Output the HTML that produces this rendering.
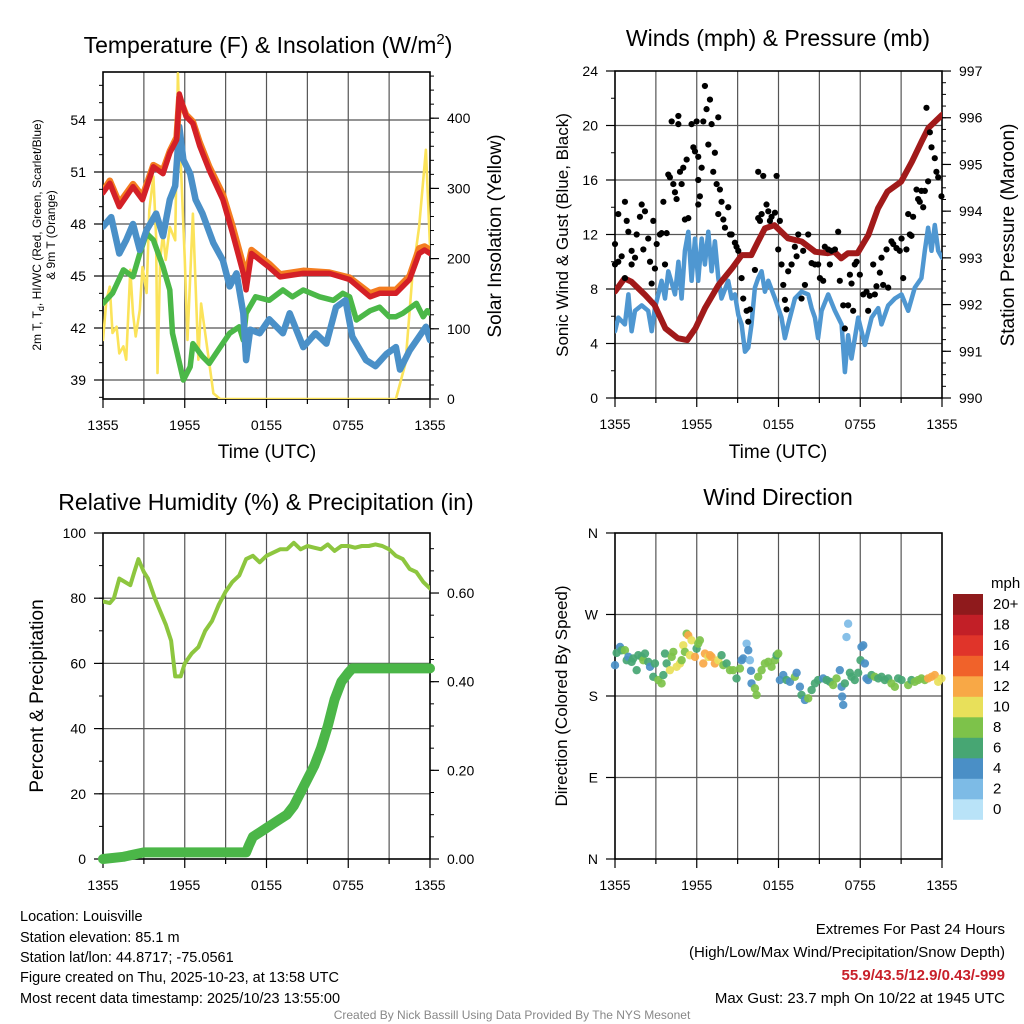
<!DOCTYPE html>
<html><head><meta charset="utf-8"><style>
html,body{margin:0;padding:0;background:#fff;}
svg{display:block;font-family:"Liberation Sans",Arial,sans-serif;}
</style></head><body>
<svg id="fig" width="1024" height="1024" viewBox="0 0 1024 1024" xmlns="http://www.w3.org/2000/svg">
<rect width="1024" height="1024" fill="#fff"/>
<text x="268" y="53" font-size="23" text-anchor="middle">Temperature (F) &amp; Insolation (W/m<tspan dy="-9" font-size="15">2</tspan><tspan dy="9">)</tspan></text>
<text x="778" y="46" font-size="23" text-anchor="middle">Winds (mph) &amp; Pressure (mb)</text>
<text x="266" y="510" font-size="23" text-anchor="middle">Relative Humidity (%) &amp; Precipitation (in)</text>
<text x="778" y="505" font-size="23" text-anchor="middle">Wind Direction</text>
<text x="267" y="458" font-size="19" text-anchor="middle">Time (UTC)</text>
<text x="778" y="458" font-size="19" text-anchor="middle">Time (UTC)</text>
<text transform="translate(41,235) rotate(-90)" font-size="12" text-anchor="middle">2m T, T<tspan dy="3" font-size="9">d</tspan><tspan dy="-3">, HI/WC (Red, Green, Scarlet/Blue)</tspan></text>
<text transform="translate(55,235) rotate(-90)" font-size="12" text-anchor="middle">&amp; 9m T (Orange)</text>
<text transform="translate(501,236) rotate(-90)" font-size="19" text-anchor="middle">Solar Insolation (Yellow)</text>
<text transform="translate(568,235) rotate(-90)" font-size="17" text-anchor="middle">Sonic Wind &amp; Gust (Blue, Black)</text>
<text transform="translate(1014,235) rotate(-90)" font-size="19" text-anchor="middle">Station Pressure (Maroon)</text>
<text transform="translate(43,696) rotate(-90)" font-size="19" text-anchor="middle">Percent &amp; Precipitation</text>
<text transform="translate(567,696) rotate(-90)" font-size="17" text-anchor="middle">Direction (Colored By Speed)</text>
<g font-size="14.5">
<text x="20" y="921">Location: Louisville</text>
<text x="20" y="942">Station elevation: 85.1 m</text>
<text x="20" y="962">Station lat/lon: 44.8717; -75.0561</text>
<text x="20" y="982">Figure created on Thu, 2025-10-23, at 13:58 UTC</text>
<text x="20" y="1003">Most recent data timestamp: 2025/10/23 13:55:00</text>
</g>
<g font-size="15" text-anchor="end">
<text x="1005" y="934">Extremes For Past 24 Hours</text>
<text x="1005" y="957">(High/Low/Max Wind/Precipitation/Snow Depth)</text>
<text x="1005" y="980" fill="#c8202a" font-weight="bold">55.9/43.5/12.9/0.43/-999</text>
<text x="1005" y="1003">Max Gust: 23.7 mph On 10/22 at 1945 UTC</text>
</g>
<text x="512" y="1019" font-size="12" fill="#888" text-anchor="middle">Created By Nick Bassill Using Data Provided By The NYS Mesonet</text>
</svg>
<script>
// ---------- DATA ----------
const xTickLabels = ["1355","1955","0155","0755","1355"];
// Panel 1
const tempHours = [0,0.5,1.2,2.2,2.9,3.7,4.4,4.9,5.4,5.6,6.1,6.6,7.1,7.8,8.8,9.5,10.3,10.5,10.9,12.2,13,14.7,16.6,18.1,19.6,20.3,21.5,22.5,23.2,23.6,24];
const temp2m = [49.8,50.35,49.0,50.15,49.4,51.3,50.9,52.1,52.85,55.5,54.2,53.8,52.5,51.1,49.4,47.5,45.15,44.2,46.3,45.5,44.95,45.15,45.15,44.8,43.8,44.0,44.0,44.8,46.3,46.5,46.3];
const temp9m = [49.9,50.5,49.2,50.3,49.6,51.4,51.1,52.2,53.0,55.3,54.3,53.9,52.7,51.3,49.7,47.9,45.6,45.0,46.5,45.7,45.1,45.3,45.2,44.9,44.0,44.2,44.2,45.0,46.6,46.7,46.5];
const hiwcHours = [0,0.6,1.2,1.7,2.2,2.7,3.2,3.9,4.4,4.9,5.3,5.6,5.9,6.4,6.8,7.3,8.1,8.8,9.3,9.8,10.3,10.5,10.8,11.5,12.2,13.2,13.7,14.7,15.6,16.4,17.1,17.8,18.3,19.3,20.0,20.8,21.5,21.8,22.5,23.2,23.7,24];
const hiwc = [47.85,48.4,46.3,47.07,48.0,46.5,47.65,48.6,47.3,49.4,50.2,53.6,51.7,50.9,49.4,48.6,46.9,45.9,44.4,45.15,42.85,40.15,41.9,41.7,42.5,41.7,42.85,40.9,41.7,41.1,43.2,43.6,41.5,40.15,39.8,40.5,40.9,39.6,40.7,41.5,42.07,41.3];
const dewHours = [0,0.7,1.5,2.2,2.7,3.2,3.7,4.4,4.9,5.1,5.9,6.4,6.6,7.3,7.8,8.6,9.3,10.0,10.3,10.5,11.2,12.2,13.2,13.9,14.7,15.9,16.9,17.6,18.1,18.6,19.6,20.3,21.0,21.5,22.0,23.0,23.5,23.8,24];
const dewpoint = [43.42,44.0,45.35,44.96,46.3,47.46,47.07,45.54,44.19,41.7,39.0,39.77,41.1,40.35,39.96,40.9,41.7,42.07,41.3,42.85,43.8,43.6,44.19,43.8,44.19,43.8,43.6,44.0,43.8,42.46,43.0,43.2,42.65,42.65,42.85,43.42,42.65,43.0,42.85];
const solarHours = [0,0.25,0.5,0.7,1.0,1.2,1.5,1.7,2.0,2.2,2.4,2.7,2.9,3.2,3.4,3.7,3.9,4.0,4.2,4.4,4.6,4.9,5.3,5.5,5.7,6.0,6.2,6.6,7.0,7.2,7.6,8.1,8.6,21.5,22.2,22.7,23.2,23.7,24];
const solar = [84,141,160,94,103,65,75,56,184,122,89,127,188,151,269,317,231,37,198,236,198,245,226,464,340,198,84,264,56,136,79,8,0,0,51,174,245,355,217];
const tempTicks = [39,42,45,48,51,54];
const solarTicks = [0,100,200,300,400];
// Panel 2
const presHours = [0,0.7,1.2,2.2,2.9,3.7,4.6,5.3,5.9,6.6,7.6,8.6,9.3,10.0,10.5,11.0,11.7,12.2,12.7,13.7,14.7,15.6,16.1,16.6,17.1,17.8,18.6,19.3,20.0,21.0,21.8,22.5,23.0,24];
const pressure = [992.28,992.56,992.49,992.21,991.99,991.49,991.28,991.24,991.49,991.92,992.42,992.78,993.06,993.06,993.35,993.63,993.70,993.56,993.42,993.35,993.13,993.10,993.13,992.99,993.10,993.10,993.49,994.06,994.42,994.63,995.06,995.49,995.78,996.06];
const windHours = [0,0.24,0.73,0.98,1.22,1.47,1.96,2.44,2.69,2.93,3.18,3.42,3.67,3.91,4.4,4.65,4.89,5.13,5.38,5.62,5.87,6.11,6.36,6.6,6.85,7.09,7.33,7.58,7.82,8.31,8.56,8.8,9.05,9.29,9.54,9.78,10.02,10.27,10.51,10.76,11.0,11.25,11.74,12.22,12.47,12.71,13.2,13.69,14.18,14.43,14.67,14.91,15.16,15.65,16.14,16.63,16.87,17.11,17.36,17.85,18.09,18.34,18.83,19.32,19.56,20.05,20.54,21.03,21.52,22.0,22.49,22.74,22.98,23.23,23.47,23.72,24];
const windSpeed = [4.9,5.9,5.4,7.6,4.9,6.4,6.8,6.4,4.9,6.6,7.6,8.6,7.3,9.3,7.6,10.0,7.3,10.8,12.2,8.6,11.7,8.6,11.7,9.8,12.2,9.3,11.5,8.8,7.3,8.6,7.3,7.6,6.1,5.4,3.4,3.7,5.4,8.1,8.8,9.3,7.8,8.6,7.3,5.9,4.4,5.4,7.3,7.8,7.6,6.6,5.9,4.4,6.4,7.6,6.4,5.4,1.9,4.6,2.9,5.9,4.9,3.9,5.9,6.6,5.4,6.8,7.3,7.6,6.4,8.1,8.8,10.8,12.5,10.8,12.7,10.8,10.3];
const gustHours = [0,0,0.24,0.24,0.49,0.73,0.73,0.86,0.98,1.22,1.22,1.47,1.59,1.83,1.96,2.08,2.2,2.44,2.57,2.69,2.81,2.93,3.06,3.3,3.42,3.67,3.79,3.55,3.91,4.03,4.28,4.4,4.52,4.77,4.89,5.01,5.13,5.26,5.38,4.16,4.65,4.65,5.62,5.75,5.87,5.99,6.11,6.11,6.23,6.11,6.36,6.48,6.6,6.72,6.97,6.85,7.09,7.21,7.33,7.46,7.58,7.7,7.82,7.58,7.95,8.07,8.31,8.44,8.56,8.8,8.92,9.05,9.29,9.41,9.66,9.78,9.9,10.27,10.51,10.64,10.76,10.51,10.88,11.12,11.25,11.37,11.49,11.74,11.86,11.98,12.1,12.22,12.35,12.47,12.59,12.71,12.96,13.2,13.33,13.45,13.69,13.81,13.94,14.18,14.43,14.67,14.91,15.04,15.28,15.4,15.65,15.77,15.89,16.14,16.38,16.5,16.75,16.87,17.11,17.24,17.36,17.48,17.6,17.73,17.97,18.22,18.46,18.58,18.7,18.95,19.07,19.19,19.44,19.56,19.68,19.93,20.05,20.29,20.42,20.66,20.9,21.03,21.15,21.39,21.52,21.64,21.76,21.88,22.13,22.25,22.37,22.49,22.62,22.74,22.86,22.98,23.11,23.23,23.47,23.59,23.72,23.96];
const gustSpeed = [9.8,11.3,10.0,13.5,10.4,8.8,14.4,13.0,12.2,10.8,9.8,10.3,12.0,13.3,14.2,10.9,13.7,11.7,10.0,8.4,13.0,9.5,11.3,12.0,12.1,9.8,12.1,14.4,16.4,16.2,15.7,15.1,14.6,16.6,15.7,16.9,13.1,17.5,13.2,20.3,20.1,20.7,20.1,18.4,18.1,20.3,17.7,16.0,14.8,14.2,16.9,20.3,22.9,21.2,21.9,18.6,20.1,16.6,18.0,15.7,20.6,15.3,14.4,13.5,13.1,12.5,14.0,12.0,12.0,11.4,11.1,10.8,8.8,7.3,6.4,5.6,6.5,9.4,13.2,13.0,13.5,16.6,16.3,14.2,13.7,13.0,13.3,13.6,16.3,10.9,13.0,9.8,8.3,7.2,6.5,9.3,9.8,11.1,10.4,12.0,7.3,10.8,8.3,12.0,9.9,9.8,9.8,8.8,8.6,11.1,10.9,9.8,10.8,10.9,12.2,8.6,6.8,5.1,6.8,9.05,8.4,6.4,9.8,10.0,9.05,7.6,7.8,6.4,7.5,9.8,7.6,8.2,9.2,10.3,8.3,10.9,8.1,11.5,11.3,11.0,10.8,11.7,8.8,10.9,13.5,12.0,11.9,13.3,15.3,14.6,14.4,15.2,14.0,15.2,21.3,15.9,19.5,18.4,17.6,16.6,16.2,14.8];
const windTicks = [0,4,8,12,16,20,24];
const presTicks = [990,991,992,993,994,995,996,997];
// Panel 3
const rhHours = [0,0.5,0.8,1.2,1.6,2.0,2.3,2.6,3.0,3.3,3.8,4.2,4.6,5.0,5.3,5.7,6.0,6.5,7.0,7.5,8,8.5,9,9.5,10,10.5,11,11.5,12,12.5,13,13.5,14,14.5,15,15.5,16,16.5,17,17.5,18,18.5,19,19.5,20,20.5,21,21.5,22,22.5,23,23.5,24];
const rh = [79,78.5,80,86,85,84,88,92,88,86,80,76,72,67,56,56,60,63,65,70,73,78,82,85,87,92,93,91,93,94,95,95,97,95,96,95.5,95,96.5,94.5,96,96,95.5,96,96,96.5,96,95,93,92,89,88,85,83];
const precHours = [0,1.5,3,10.5,10.7,11,11.5,12,12.5,13,13.5,14,14.5,15,15.5,16,16.5,17,17.5,18,18.3,24];
const precip = [0,0.005,0.015,0.015,0.03,0.05,0.06,0.07,0.08,0.09,0.10,0.12,0.15,0.18,0.21,0.25,0.30,0.36,0.40,0.42,0.43,0.43];
const rhTicks = [0,20,40,60,80,100];
const precTicks = ["0.00","0.20","0.40","0.60"];
// Panel 4
const dirHours = [0,0.12,0.37,0.49,0.73,0.86,0.98,1.22,1.34,1.59,1.71,1.96,2.08,2.2,2.44,2.57,2.81,2.93,3.18,3.42,3.55,3.67,3.79,4.03,4.16,4.28,4.52,4.77,4.89,5.01,5.13,5.26,5.38,5.5,5.62,5.87,5.99,6.11,6.23,6.48,6.6,6.85,6.97,7.09,7.33,7.58,7.82,7.95,8.19,8.44,8.68,8.92,9.17,9.29,9.41,9.66,9.78,9.9,9.98,10.02,10.27,10.39,10.51,10.76,11.0,11.25,11.49,11.74,11.86,11.98,12.1,12.35,12.59,12.84,13.2,13.33,13.57,13.69,13.94,14.18,14.43,14.67,14.91,15.28,15.53,15.77,16.01,16.26,16.5,16.63,16.67,16.75,16.87,16.99,17.11,17.24,17.36,17.6,17.85,18.02,18.09,18.22,18.34,18.46,18.58,18.83,19.07,19.32,19.56,19.8,20.05,20.29,20.54,20.78,21.03,21.52,21.76,22.0,22.25,22.49,22.74,22.98,23.23,23.47,23.72,23.96];
const dirDeg = [214,227.6,234.2,230.5,230.5,219.5,223.2,217.7,221.4,208.5,225,223.2,219.5,226.8,217.7,212.2,201.2,215.9,197.6,193.9,203.1,226.8,215.9,208.5,223.2,228.7,212.2,215.9,219.5,236,228.7,248.8,247,225,241.5,223.2,232.3,237.8,241.5,215.9,226.8,223.2,225,223.2,215.9,219.5,225,214,215.9,208.5,208.5,199.4,210.3,219.5,221.4,237.8,230.5,219.5,207.8,193.9,188.4,181.1,201.2,208.5,215.9,217.7,212.2,219.5,225,226.8,197.6,203.1,197.6,195.7,201.2,205.6,190.2,181.1,175.6,177.4,186.6,193.9,197.6,199.4,197.6,195.7,192.1,199.4,208.5,190.2,179.3,170.1,193.9,245.1,259.8,205.6,201.2,197.6,205.6,219.5,234.2,236,215.9,199.4,197.6,203.1,201.2,199.4,201.2,197.6,199.4,193.9,190.2,199.4,197.6,192.1,197.6,195.7,197.6,199.4,197.6,199.4,201.2,203.1,195.7,199.4];
const dirSpeed = [4,6,4,6,8,6,4,6,6,6,6,6,8,6,6,4,6,6,8,8,6,6,6,10,8,8,10,10,8,10,8,8,12,10,10,12,6,8,8,12,12,10,12,12,12,10,6,8,6,8,8,6,8,4,4,2,4,2,4,4,8,8,8,8,8,8,8,8,6,8,4,4,6,4,8,4,4,6,4,8,6,6,6,4,6,6,8,8,4,4,4,4,6,2,2,6,6,6,6,6,4,4,4,4,4,6,8,6,6,6,6,8,8,6,6,8,6,8,8,8,8,12,12,12,10,10];
const dirTicks = ["N","E","S","W","N"];
const scaleLabels = ["0","2","4","6","8","10","12","14","16","18","20+"];
const scaleColors = ["#b9e3f8","#7dbbe6","#4a8fc6","#47a673","#7dc24a","#e8e05a","#f8a846","#f0622a","#e0342a","#c21f27","#8f1a1c"];

// ---------- HELPERS ----------
const NS="http://www.w3.org/2000/svg";
const svg=document.getElementById('fig');
function mk(tag,attrs,parent){const e=document.createElementNS(NS,tag);for(const k in attrs)e.setAttribute(k,attrs[k]);(parent||svg).appendChild(e);return e;}
function panel(L,R,T,B){return {L,R,T,B,x:t=>L+t*(R-L)/24};}
const P1=panel(103,430,72,399), P2=panel(615,942,71,398), P3=panel(103,430,533,859), P4=panel(615,942,533,859);
const tempY=v=>380-(v-39)*52/3, solarY=w=>399-w*0.702;
const windY=m=>398-m*13.625, presY=p=>398-(p-990)*46.71;
const rhY=v=>859-v*3.26, precY=v=>859-v*443.3;
const dirY=d=>859-d*0.9056;
const speedColor=s=>scaleColors[Math.max(0,Math.min(10,Math.round(s/2)))];

function frame(p,name,hVals,hY){
  const g=mk('g',{});
  
  
  for(let h=3;h<24;h+=3){mk('line',{x1:p.x(h),x2:p.x(h),y1:p.T,y2:p.B,stroke:'#555','stroke-width':1.2},g);}
  hVals.forEach(v=>{const y=hY(v);if(y>p.T+1&&y<p.B-1)mk('line',{x1:p.L,x2:p.R,y1:y,y2:y,stroke:'#555','stroke-width':1.2},g);});
  const fr=mk('rect',{x:p.L,y:p.T,width:p.R-p.L,height:p.B-p.T,fill:'none',stroke:'#000','stroke-width':1.6});
  
  
  const xa=mk('g',{'font-size':14,'text-anchor':'middle'});
  
  
  for(let h=0;h<=24;h+=3){mk('line',{x1:p.x(h),x2:p.x(h),y1:p.B,y2:p.B+(h%6?5:9),stroke:'#000','stroke-width':1.2},xa);}
  xTickLabels.forEach((s,i)=>{const t=mk('text',{x:p.x(i*6),y:p.B+31},xa);t.textContent=s;});
}
function leftAxis(p,name,vals,labels,yf,minor){
  const g=mk('g',{'font-size':14,'text-anchor':'end'});
  
  
  (minor||[]).forEach(v=>mk('line',{x1:p.L-4,x2:p.L,y1:yf(v),y2:yf(v),stroke:'#000'},g));
  vals.forEach((v,i)=>{const y=yf(v);mk('line',{x1:p.L-9,x2:p.L,y1:y,y2:y,stroke:'#000','stroke-width':1.2},g);const t=mk('text',{x:p.L-17,y:y+5},g);t.textContent=labels[i];});
}
function rightAxis(p,name,vals,labels,yf,minor){
  const g=mk('g',{'font-size':14,'text-anchor':'start'});
  
  
  (minor||[]).forEach(v=>mk('line',{x1:p.R,x2:p.R+4,y1:yf(v),y2:yf(v),stroke:'#000'},g));
  vals.forEach((v,i)=>{const y=yf(v);mk('line',{x1:p.R,x2:p.R+9,y1:y,y2:y,stroke:'#000','stroke-width':1.2},g);const t=mk('text',{x:p.R+17,y:y+5},g);t.textContent=labels[i];});
}
function series(p,hours,vals,yf,color,w,name,clipId){
  const d=hours.map((h,i)=>(i?'L':'M')+p.x(h).toFixed(1)+','+yf(vals[i]).toFixed(1)).join(' ');
  const e=mk('path',{d,fill:'none',stroke:color,'stroke-width':w,'stroke-linejoin':'round','stroke-linecap':'round'});
  if(clipId)e.setAttribute('clip-path','url(#'+clipId+')');
  
  
  return e;
}
const defs=mk('defs',{});
[[P1,'c1'],[P2,'c2'],[P3,'c3'],[P4,'c4']].forEach(([p,id])=>{const c=mk('clipPath',{id},defs);mk('rect',{x:p.L,y:p.T,width:p.R-p.L,height:p.B-p.T},c);});
function range(a,b,s){const r=[];for(let v=a;v<=b+1e-9;v+=s)r.push(+v.toFixed(3));return r;}

// ---------- PANEL 1 ----------
frame(P1,'temperature-panel',tempTicks,tempY);
leftAxis(P1,'temperature-y-axis',tempTicks,tempTicks.map(String),tempY,range(38,56,1));
rightAxis(P1,'solar-y-axis',solarTicks,solarTicks.map(String),solarY,range(0,460,20));
series(P1,solarHours,solar,solarY,'#fbe35a',2.6,'solar-insolation-line','c1');
series(P1,dewHours,dewpoint,tempY,'#4bb848',5.5,'dewpoint-line','c1');
series(P1,hiwcHours,hiwc,tempY,'#4a90c8',6.5,'heat-index-wind-chill-line','c1');
series(P1,tempHours,temp9m,tempY,'#f47d20',6.5,'temperature-9m-line','c1');
series(P1,tempHours,temp2m,tempY,'#d42027',5.5,'temperature-2m-line','c1');

// ---------- PANEL 2 ----------
frame(P2,'winds-panel',windTicks,windY);
leftAxis(P2,'wind-y-axis',windTicks,windTicks.map(String),windY,range(0,24,2));
rightAxis(P2,'pressure-y-axis',presTicks,presTicks.map(String),presY,range(990,997,0.25));
series(P2,windHours,windSpeed,windY,'#4f97d1',4.5,'sonic-wind-line','c2');
series(P2,presHours,pressure,presY,'#a11a1a',6,'pressure-line','c2');
const gg=mk('g',{fill:'#000'});


gustHours.forEach((h,i)=>{const c=mk('circle',{cx:P2.x(h),cy:windY(gustSpeed[i]),r:3.1},gg);

});

// ---------- PANEL 3 ----------
frame(P3,'humidity-panel',rhTicks,rhY);
leftAxis(P3,'humidity-y-axis',rhTicks,rhTicks.map(String),rhY,range(0,100,10));
rightAxis(P3,'precip-y-axis',precTicks.map(Number),precTicks,precY,range(0,0.7,0.05));
series(P3,rhHours,rh,rhY,'#8dc63f',4,'relative-humidity-line','c3');
series(P3,precHours,precip,precY,'#4bb648',10,'precipitation-line');

// ---------- PANEL 4 ----------
const dirVals=[0,90,180,270,360];
frame(P4,'direction-panel',dirVals,dirY);
leftAxis(P4,'direction-y-axis',dirVals,dirTicks,dirY,[]);
const dg=mk('g',{});


dirHours.forEach((h,i)=>{const c=mk('circle',{cx:P4.x(h),cy:dirY(dirDeg[i]),r:4.2,fill:speedColor(dirSpeed[i]),'fill-opacity':0.92},dg);

});
// colorbar
const cb=mk('g',{'font-size':15});


const cbT=594,cbH=20.5;
scaleColors.forEach((col,i)=>{mk('rect',{x:953,y:cbT+(10-i)*cbH,width:30,height:cbH+0.3,fill:col},cb);
const t=mk('text',{x:993,y:cbT+(10-i)*cbH+15},cb);t.textContent=scaleLabels[i];});
const mu=mk('text',{x:991,y:588,'font-size':15},cb);mu.textContent='mph';
</script>
</body></html>
